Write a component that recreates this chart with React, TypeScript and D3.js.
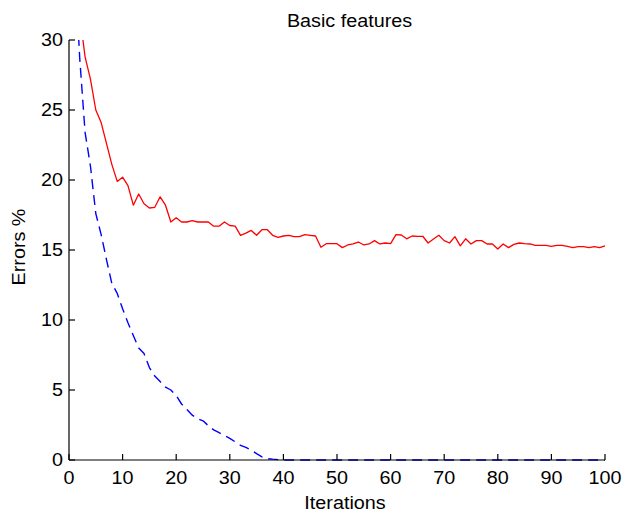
import React from "react";
import * as d3 from "d3";

const iterations: number[] = d3.range(1, 101);

const basicRed: number[] = [
  38, 31.8, 28.8, 27.2, 25.0, 24.1, 22.6, 21.1, 19.9, 20.2,
  19.6, 18.2, 19.0, 18.3, 18.0, 18.05, 18.8, 18.2, 17.0, 17.3,
  17.0, 17.0, 17.1, 17.0, 17.0, 17.0, 16.7, 16.7, 17.0, 16.75,
  16.7, 16.05, 16.2, 16.4, 16.05, 16.45, 16.45, 16.05, 15.9, 16.0,
  16.05, 15.95, 15.95, 16.1, 16.05, 16.0, 15.2, 15.45, 15.45, 15.45,
  15.17, 15.36, 15.43, 15.57, 15.36, 15.43, 15.67, 15.43, 15.5, 15.45,
  16.1, 16.07, 15.8, 16.0, 15.98, 15.98, 15.5, 15.79, 16.05, 15.67,
  15.5, 15.95, 15.3, 15.8, 15.43, 15.67, 15.67, 15.43, 15.43, 15.07,
  15.43, 15.17, 15.4, 15.5, 15.45, 15.43, 15.33, 15.33, 15.33, 15.26,
  15.33, 15.33, 15.26, 15.17, 15.24, 15.24, 15.17, 15.24, 15.17, 15.3,
];

const basicBlue: number[] = [
  36, 28.7, 23.4, 21.0, 17.6, 16.1, 14.3, 12.6, 11.9, 10.8,
  9.8, 8.9, 8.0, 7.6, 6.6, 6.0, 5.6, 5.2, 5.0, 4.6,
  4.0, 3.6, 3.2, 2.95, 2.8, 2.45, 2.15, 1.95, 1.75, 1.55,
  1.3, 1.05, 0.9, 0.7, 0.45, 0.22, 0.1, 0.06, 0.03, 0,
  0, 0, 0, 0, 0, 0, 0, 0, 0, 0,
  0, 0, 0, 0, 0, 0, 0, 0, 0, 0,
  0, 0, 0, 0, 0, 0, 0, 0, 0, 0,
  0, 0, 0, 0, 0, 0, 0, 0, 0, 0,
  0, 0, 0, 0, 0, 0, 0, 0, 0, 0,
  0, 0, 0, 0, 0, 0, 0, 0, 0, 0,
];

const xTicks: number[] = [0, 10, 20, 30, 40, 50, 60, 70, 80, 90, 100];
const yTicks: number[] = [0, 5, 10, 15, 20, 25, 30];
const titleText = "Basic features";
const xLabel = "Iterations";
const yLabel = "Errors %";

const W = 627;
const H = 516;
const FONT = "'Liberation Sans', Arial, Helvetica, sans-serif";
const FS = 17.5;
const SX = 1.13;

function Label(props: { x: number; y: number; anchor: string; text: string; rotate?: number }) {
  const { x, y, anchor, text, rotate } = props;
  const t = `translate(${x},${y})${rotate ? ` rotate(${rotate})` : ""} scale(${SX},1)`;
  return (
    <text transform={t} textAnchor={anchor as any} fontFamily={FONT} fontSize={FS} fill="#000">
      {text}
    </text>
  );
}

export default function App() {
  const x = d3.scaleLinear().domain([0, 100]).range([69, 605]);
  const y = d3.scaleLinear().domain([0, 30]).range([460, 40]);

  const line = d3
    .line<number>()
    .x((_, i) => x(iterations[i]))
    .y((d) => y(d));

  const tickLen = 6;
  const axisColor = "#000";

  return (
    <div style={{ position: "absolute", left: 0, top: 0 }}>
      <svg width={W} height={H} viewBox={`0 0 ${W} ${H}`} style={{ display: "block", background: "#fff" }}>
        <defs>
          <clipPath id="plotClip">
            <rect x={x(0)} y={y(30)} width={x(100) - x(0) + 2} height={y(0) - y(30) + 4} />
          </clipPath>
        </defs>
        <rect x={0} y={0} width={W} height={H} fill="#fff" />

        <g clipPath="url(#plotClip)">
          <path d={line(basicRed) || ""} fill="none" stroke="#ff0000" strokeWidth={1.3} strokeLinejoin="round" />
          <path
            d={line(basicBlue) || ""}
            fill="none"
            stroke="#0000ff"
            strokeWidth={1.4}
            strokeDasharray="10,6"
            strokeLinejoin="round"
          />
        </g>

        {/* axes */}
        <line x1={x(0)} x2={x(0)} y1={y(0)} y2={y(30)} stroke={axisColor} strokeWidth={1.2} />
        <line x1={x(0)} x2={x(100)} y1={y(0)} y2={y(0)} stroke={axisColor} strokeWidth={1.2} />
        {yTicks.map((t) => (
          <g key={`yt${t}`}>
            <line x1={x(0)} x2={x(0) + tickLen} y1={y(t)} y2={y(t)} stroke={axisColor} strokeWidth={1.2} />
            <Label x={x(0) - 6} y={y(t) + 6.3} anchor="end" text={String(t)} />
          </g>
        ))}
        {xTicks.map((t) => (
          <g key={`xt${t}`}>
            <line x1={x(t)} x2={x(t)} y1={y(0)} y2={y(0) - tickLen} stroke={axisColor} strokeWidth={1.2} />
            <Label x={x(t)} y={484} anchor="middle" text={String(t)} />
          </g>
        ))}

        <Label x={349.5} y={27} anchor="middle" text={titleText} />
        <Label x={345} y={509} anchor="middle" text={xLabel} />
        <Label x={25} y={247} anchor="middle" text={yLabel} rotate={-90} />
      </svg>
    </div>
  );
}
